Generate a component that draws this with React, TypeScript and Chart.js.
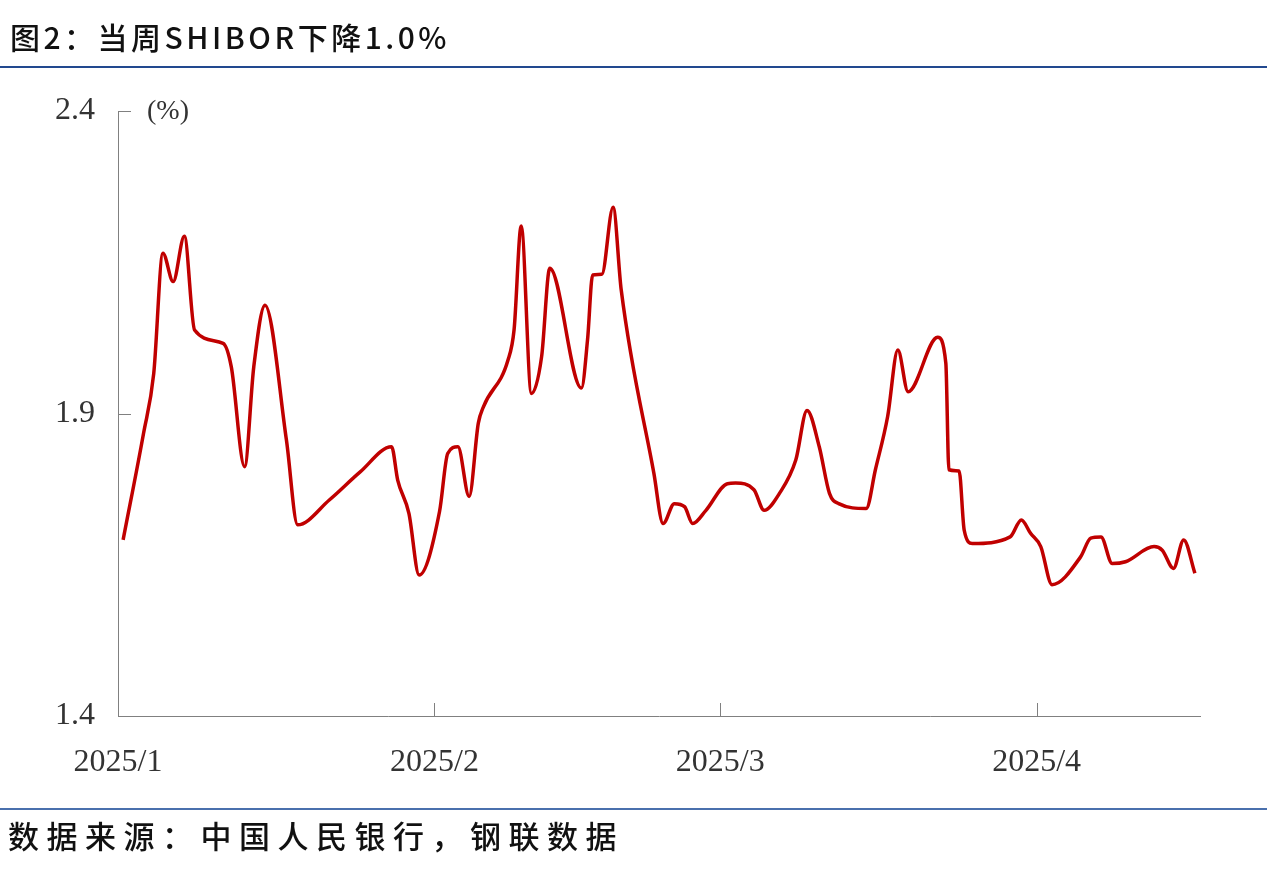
import React, { useEffect, useRef } from 'react';
import { Chart, registerables } from 'chart.js';

Chart.register(...registerables);

// Days counted from 2025-01-01 (day 0)
const dayOffsets = [
  0.5, 2.5, 3.5, 4.4, 5.4, 6.5, 7.5, 10.3, 11.1, 12.4, 13.3, 14.4, 16.5, 17.6,
  20.7, 23.7, 26.8, 27.4, 28.5, 29.5, 31.5, 32.3, 33.3, 34.4, 35.3, 35.8, 38.2,
  38.8, 39.5, 40.5, 41.5, 42.3, 45.4, 46.0, 46.5, 47.4, 48.5, 49.3, 52.5, 53.4,
  54.5, 55.5, 56.3, 57.6, 59.7, 60.5, 62.3, 63.3, 64.8, 66.4, 67.5, 68.7, 69.7,
  70.6, 73.3, 74.2, 75.4, 76.4, 77.4, 80.3, 81.1, 81.4, 82.4, 82.9, 83.7, 87.4,
  88.5, 89.4, 90.4, 91.5, 94.3, 95.3, 96.3, 97.4, 98.7, 101.5, 102.3, 103.4,
  104.4, 105.5,
];
const shiborValues = [
  1.691, 1.867, 1.966, 2.165, 2.118, 2.193, 2.038, 2.016, 1.977, 1.812, 1.977,
  2.079, 1.856, 1.716, 1.757, 1.803, 1.845, 1.79, 1.735, 1.633, 1.738, 1.834,
  1.845, 1.763, 1.884, 1.911, 1.988, 2.038, 2.21, 1.933, 1.994, 2.14, 1.942,
  2.022, 2.129, 2.13, 2.241, 2.104, 1.801, 1.718, 1.751, 1.746, 1.718, 1.74,
  1.784, 1.785, 1.774, 1.74, 1.768, 1.823, 1.905, 1.845, 1.768, 1.751, 1.743,
  1.807, 1.895, 2.005, 1.936, 2.026, 1.983, 1.807, 1.805, 1.707, 1.685, 1.696,
  1.724, 1.702, 1.68, 1.617, 1.663, 1.694, 1.696, 1.652, 1.655, 1.68, 1.674,
  1.644, 1.691, 1.636,
];
const tickDays = [0, 31, 59, 90];
const tickLabels = ['2025/1', '2025/2', '2025/3', '2025/4'];
const yTickValues = [1.4, 1.9, 2.4];
const titleText = '图2：当周SHIBOR下降1.0%';
const sourceText = '数据来源：中国人民银行，钢联数据';
const unitText = '(%)';

export default function App() {
  const ref = useRef<HTMLCanvasElement>(null);

  useEffect(() => {
    document.body.style.margin = '0';
    const canvas = ref.current!;
    const W = 1267;
    const H = 878;

    const decor = {
      id: 'decor',
      beforeDraw(chart: any) {
        const ctx = chart.ctx;
        ctx.save();
        ctx.fillStyle = '#ffffff';
        ctx.fillRect(0, 0, W, H);
        ctx.restore();
      },
      afterDraw(chart: any) {
        const ctx = chart.ctx as CanvasRenderingContext2D;
        const { left, bottom } = chart.chartArea;
        const xs = chart.scales.x;
        const ys = chart.scales.y;
        ctx.save();
        // title
        ctx.fillStyle = '#111111';
        ctx.font = '500 30px "Noto Sans CJK SC"';
        (ctx as any).letterSpacing = '3.5px';
        ctx.textBaseline = 'middle';
        ctx.textAlign = 'left';
        ctx.fillText(titleText, 10, 38);
        // source
        ctx.font = '500 31px "Noto Sans CJK SC"';
        (ctx as any).letterSpacing = '7.5px';
        ctx.fillText(sourceText, 8, 836);
        (ctx as any).letterSpacing = '0px';
        // rules
        ctx.lineWidth = 2;
        ctx.strokeStyle = '#22498f';
        ctx.beginPath();
        ctx.moveTo(0, 67);
        ctx.lineTo(W, 67);
        ctx.stroke();
        ctx.strokeStyle = '#4a70ad';
        ctx.beginPath();
        ctx.moveTo(0, 809);
        ctx.lineTo(W, 809);
        ctx.stroke();
        // unit
        ctx.fillStyle = '#333333';
        ctx.font = '28px "Liberation Serif"';
        ctx.fillText(unitText, 147, 112);
        // inward ticks
        ctx.strokeStyle = '#808080';
        ctx.lineWidth = 1;
        ctx.beginPath();
        yTickValues.forEach((v) => {
          const y = Math.round(ys.getPixelForValue(v)) + 0.5;
          ctx.moveTo(left, y);
          ctx.lineTo(left + 13, y);
        });
        tickDays.forEach((d) => {
          const x = Math.round(xs.getPixelForValue(d)) + 0.5;
          ctx.moveTo(x, bottom);
          ctx.lineTo(x, bottom - 13);
        });
        ctx.stroke();
        ctx.restore();
      },
    };

    const chart = new Chart(canvas, {
      type: 'line',
      data: {
        datasets: [
          {
            data: dayOffsets.map((d, i) => ({ x: d, y: shiborValues[i] })),
            borderColor: '#c00000',
            borderWidth: 3.5,
            pointRadius: 0,
            cubicInterpolationMode: 'monotone',
            fill: false,
          },
        ],
      },
      options: {
        responsive: false,
        animation: false,
        devicePixelRatio: 1,
        layout: { padding: { left: 0, top: 111, right: 67, bottom: 0 } },
        plugins: { legend: { display: false }, tooltip: { enabled: false } },
        scales: {
          x: {
            type: 'linear',
            min: 0,
            max: 106,
            afterBuildTicks: (s: any) => {
              s.ticks = tickDays.map((v) => ({ value: v }));
            },
            afterFit: (s: any) => {
              s.height = 878 - 716;
            },
            ticks: {
              autoSkip: false,
              maxRotation: 0,
              padding: 19,
              color: '#333333',
              font: { family: '"Liberation Serif"', size: 32 },
              callback: (v: any) => {
                const i = tickDays.indexOf(Number(v));
                return i >= 0 ? tickLabels[i] : '';
              },
            },
            grid: { display: false },
            border: { display: true, color: '#808080', width: 1 },
          },
          y: {
            min: 1.4,
            max: 2.4,
            afterBuildTicks: (s: any) => {
              s.ticks = yTickValues.map((v) => ({ value: v }));
            },
            afterFit: (s: any) => {
              s.width = 118;
            },
            ticks: {
              padding: 15,
              color: '#333333',
              font: { family: '"Liberation Serif"', size: 32 },
              callback: (v: any) => Number(v).toFixed(1),
            },
            grid: { display: false },
            border: { display: true, color: '#808080', width: 1 },
          },
        },
      },
      plugins: [decor],
    } as any);

    return () => chart.destroy();
  }, []);

  return <canvas ref={ref} width={1267} height={878} style={{ display: 'block' }} />;
}
